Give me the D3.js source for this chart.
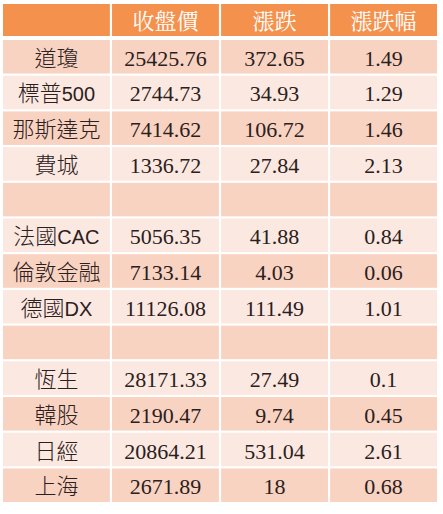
<!DOCTYPE html><html><head><meta charset="utf-8"><script src="https://cdn.jsdelivr.net/npm/d3@7"></script>
<style>body{margin:0;background:#fff}</style></head><body><svg id="c" width="443" height="514"></svg><script>
const headers=["","收盤價","漲跌","漲跌幅"];
const names=["道瓊","標普500","那斯達克","費城","","法國CAC","倫敦金融","德國DX","","恆生","韓股","日經","上海"];
const closes=["25425.76","2744.73","7414.62","1336.72","","5056.35","7133.14","11126.08","","28171.33","2190.47","20864.21","2671.89"];
const changes=["372.65","34.93","106.72","27.84","","41.88","4.03","111.49","","27.49","9.74","531.04","18"];
const pcts=["1.49","1.29","1.46","2.13","","0.84","0.06","1.01","","0.1","0.45","2.61","0.68"];
const svg=d3.select("#c");
const x=d3.scaleBand().domain(d3.range(4)).range([3,437]).paddingInner(0.02);
const y=d3.scaleBand().domain(d3.range(names.length)).range([40,502]).paddingInner(0.06);
const h=svg.append("g");
headers.forEach((t,i)=>{
 h.append("rect").attr("x",x(i)).attr("y",4).attr("width",x.bandwidth()).attr("height",32).attr("fill","#f4914c");
 h.append("text").attr("x",x(i)+x.bandwidth()/2).attr("y",29).attr("text-anchor","middle").attr("fill","#fff").attr("font-size",22).attr("font-family","'Noto Serif CJK TC','Noto Sans CJK TC',serif").text(t);
});
const cols=[names,closes,changes,pcts];
names.forEach((_,r)=>{
 const fill=r%2===0?"#f9d3c2":"#fbe8e0";
 cols.forEach((c,i)=>{
  svg.append("rect").attr("x",x(i)).attr("y",y(r)).attr("width",x.bandwidth()).attr("height",y.bandwidth()).attr("fill",fill);
  const t=svg.append("text").attr("x",x(i)+x.bandwidth()/2).attr("y",y(r)+y.bandwidth()/2+9).attr("text-anchor","middle").attr("fill","#2a2020");
  if(i===0){
    t.attr("font-size",22).attr("font-family","'Noto Sans CJK TC',sans-serif");
    const m=c[r].match(/^([^A-Z0-9]*)(.*)$/);
    t.append("tspan").attr("font-weight",300).text(m[1]);
    if(m[2]) t.append("tspan").attr("font-family","'Liberation Sans',Arial,sans-serif").attr("font-size",20).text(m[2]);
  } else t.attr("font-size",22).attr("font-family","'Liberation Serif','Times New Roman',serif").attr("textLength",null).text(c[r]);
 });
});
</script></body></html>
